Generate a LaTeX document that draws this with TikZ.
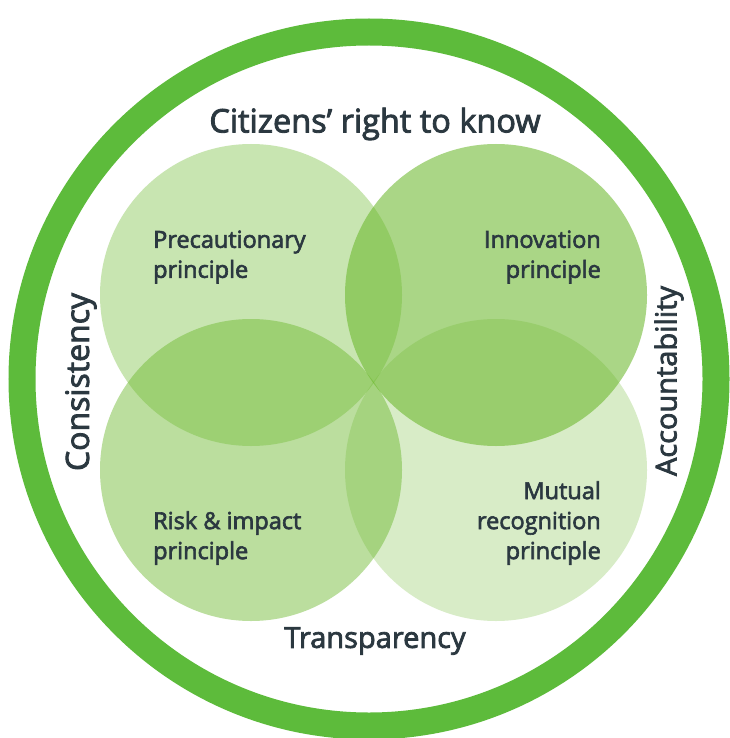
\documentclass[tikz,border=0pt]{standalone}
\usepackage{fontspec}
\setmainfont{Open Sans}
\newfontfamily\medfont{Open Sans}[FakeBold=2.6]
\definecolor{ringgreen}{HTML}{5DBB3B}
\definecolor{petalgreen}{RGB}{105,183,40}
\definecolor{textslate}{HTML}{2B3840}

\begin{document}
\begin{tikzpicture}[x=1pt, y=-1pt,
	petal/.style={circle, minimum size=302pt, inner sep=0pt, fill=petalgreen},
	principletext/.style={text=textslate, font=\medfont\fontsize{23.5}{30}\selectfont, inner sep=0pt},
	valuetext/.style={text=textslate, font=\medfont\fontsize{29}{34}\selectfont, inner sep=0pt}]
		\fill[white] (0,0) rectangle (729,738);
		\useasboundingbox (0,0) rectangle (729,738);
		\node[circle, draw=ringgreen, line width=27pt, minimum size=694pt, inner sep=0pt](ring) at (369,379) {};
		% the four principles
		\node[petal, fill opacity=0.36](prec) at (251,295) {};
		\node[petal, fill opacity=0.56](innov) at (496,295) {};
		\node[petal, fill opacity=0.45](risk) at (251,470) {};
		\node[petal, fill opacity=0.26](mutual) at (496,470) {};
		\node[principletext, align=left, anchor=west](precText) at (153,257) {Precautionary\\principle};
		\node[principletext, align=right, anchor=east](innovText) at (601,257) {Innovation\\principle};
		\node[principletext, align=left, anchor=west](riskText) at (153,538) {Risk \& impact\\principle};
		\node[principletext, align=right, anchor=east](mutualText) at (601,523) {Mutual\\recognition\\principle};
		% the values round them
		\node[valuetext, font=\medfont\fontsize{32.5}{36}\selectfont](citizens) at (375,124) {Citizens’ right to know};
		\node[valuetext](transparency) at (375,641) {Transparency};
		\node[valuetext, font=\medfont\fontsize{32}{36}\selectfont, rotate=90](consistency) at (81,382) {Consistency};
		\node[valuetext, rotate=90](accountability) at (669,381) {Accountability};
	\end{tikzpicture}
\end{document}
